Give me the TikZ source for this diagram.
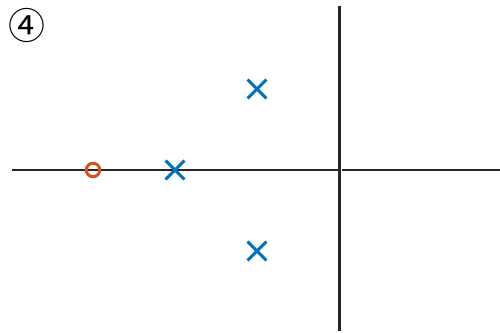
\documentclass[tikz,border=0pt]{standalone}
\usepackage{fontspec}
\newfontfamily\symfont{Noto Sans CJK JP}
\usetikzlibrary{shapes.misc}
\definecolor{polecol}{RGB}{0,114,189}
\definecolor{zerocol}{RGB}{217,83,25}
\definecolor{axiscol}{RGB}{38,38,38}
\tikzset{
  axisline/.style={axiscol, line width=1.3pt},
  pole/.style={cross out, draw=polecol, line width=1.7pt, inner sep=0pt, minimum size=0.32cm},
  zero/.style={circle, draw=zerocol, line width=1.7pt, inner sep=0pt, minimum size=0.27cm},
  tag/.style={font=\symfont\fontsize{21}{24}\selectfont, inner sep=0pt},
}
\begin{document}
\begin{tikzpicture}[x=0.02cm, y=-0.02cm]
    \useasboundingbox (0,0) rectangle (500,333);
    % axes
    \coordinate (xl) at (12,170);
    \coordinate (xm) at (338,170);
    \coordinate (xn) at (342,170);
    \coordinate (xr) at (500,170);
    \coordinate (yt) at (339.5,6);
    \coordinate (yb) at (339.5,331);
    \draw[axisline] (xl) -- (xm);
    \draw[axisline] (xn) -- (xr);
    \draw[axisline] (yt) -- (yb);
    % zero and poles
    \node[zero] (z1) at (93,170) {};
    \node[pole] (p1) at (175,170) {};
    \node[pole] (p2) at (257,89) {};
    \node[pole] (p3) at (257,251) {};
    % label
    \node[tag] (lbl) at (27,25) {④};
\end{tikzpicture}
\end{document}
